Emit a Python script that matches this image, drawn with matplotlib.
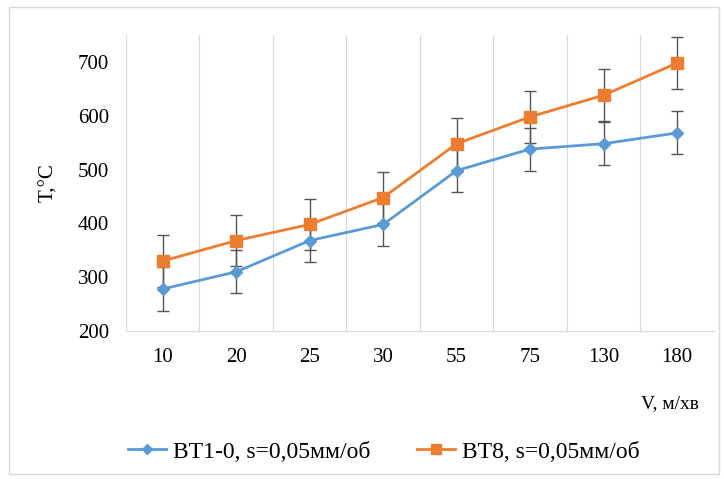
import numpy as np
import matplotlib.pyplot as plt
from matplotlib.lines import Line2D

plt.rcParams['font.family'] = ['Liberation Serif', 'DejaVu Serif']

speeds = ['10', '20', '25', '30', '55', '75', '130', '180']
bt1 = [278, 310, 368, 398, 498, 538, 548, 568]
bt8 = [330, 368, 398, 448, 548, 598, 638, 698]
bt1_err = [40, 40, 40, 40, 40, 40, 40, 40]
bt8_err = [48, 48, 48, 48, 48, 48, 48, 48]

fig = plt.figure(figsize=(7.24, 4.79), dpi=100)
ax = fig.add_axes([0.174, 0.309, 0.812, 0.618])

x = np.arange(len(speeds))
ax.errorbar(x, bt1, yerr=bt1_err, color='#5B9BD5', marker='D', markersize=6,
            linewidth=2, ecolor='#555555', elinewidth=1, capsize=4, zorder=3)
ax.errorbar(x, bt8, yerr=bt8_err, color='#ED7D31', marker='s', markersize=8,
            linewidth=2, ecolor='#555555', elinewidth=1, capsize=4, zorder=3)

# vertical gridlines between categories
for b in np.arange(-0.5, len(speeds), 1.0):
    ax.axvline(b, color='#d9d9d9', linewidth=0.8, zorder=0)

ax.set_xlim(-0.5, len(speeds) - 0.5)
ax.set_ylim(200, 750)
ax.set_yticks([200, 300, 400, 500, 600, 700])
ax.set_xticks(x)
ax.set_xticklabels(speeds)
ax.tick_params(length=0, labelsize=15, pad=12)
for s in ax.spines.values():
    s.set_visible(False)
ax.spines['bottom'].set_visible(True)
ax.spines['bottom'].set_color('#d9d9d9')

ax.set_ylabel('T,°C', fontsize=15)
ax.yaxis.set_label_coords(-0.115, 0.5)
fig.text(0.965, 0.148, 'V, м/хв', fontsize=14, ha='right')

handles = [
    Line2D([], [], color='#5B9BD5', marker='D', markersize=5, linewidth=2),
    Line2D([], [], color='#ED7D31', marker='s', markersize=7, linewidth=2),
]
labels = ['BT1-0, s=0,05мм/об', 'BT8, s=0,05мм/об']
fig.legend(handles, labels, loc='lower center', bbox_to_anchor=(0.53, -0.01), ncol=2,
           frameon=False, fontsize=17, handlelength=1.6, handletextpad=0.3,
           columnspacing=2.0)

fig.patches.append(plt.Rectangle((0.013, 0.01), 0.98, 0.975, transform=fig.transFigure,
                                 fill=False, edgecolor='#d9d9d9', linewidth=1))

fig.savefig('out.png', dpi=100)
